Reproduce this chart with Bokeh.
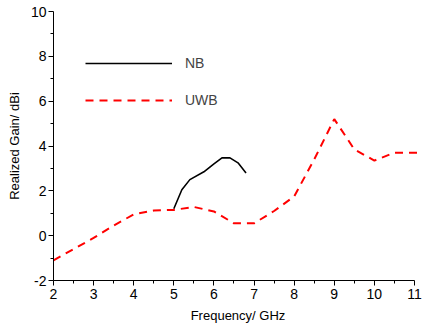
from bokeh.plotting import figure
from bokeh.models import Range1d, Legend, LegendItem, FixedTicker
from bokeh.embed import file_html
from bokeh.resources import INLINE

# Data
uwb_freq = [2.0, 2.5, 3.0, 3.5, 4.0, 4.5, 5.0, 5.5, 6.0, 6.5, 7.0, 7.5, 8.0, 8.5, 9.0, 9.5, 10.0, 10.5, 11.0, 11.5]
uwb_gain = [-1.1, -0.6, -0.1, 0.45, 0.95, 1.12, 1.15, 1.28, 1.08, 0.55, 0.55, 1.1, 1.75, 3.4, 5.2, 3.85, 3.35, 3.7, 3.7, 3.7]
nb_freq = [5.0, 5.2, 5.4, 5.75, 6.0, 6.2, 6.4, 6.6, 6.8]
nb_gain = [1.2, 2.05, 2.5, 2.85, 3.2, 3.47, 3.47, 3.25, 2.8]
x_ticks = [2, 3, 4, 5, 6, 7, 8, 9, 10, 11]
y_ticks = [-2, 0, 2, 4, 6, 8, 10]
y_tick_labels = ["-2", "0", "2", "4", "6", "8", "10"]

FONT = "Liberation Sans"

p = figure(width=422, height=331, output_backend="svg", toolbar_location=None,
           x_range=Range1d(2, 11.2), y_range=Range1d(-2, 10),
           min_border_left=53, min_border_right=0, min_border_top=11, min_border_bottom=51)
p.outline_line_color = None
p.grid.visible = False
p.background_fill_color = "white"

nb = p.line(nb_freq, nb_gain, line_color="black", line_width=1.6)
uwb = p.line(uwb_freq, uwb_gain, line_color="red", line_width=2, line_dash="8 6")

for ax in (p.xaxis[0], p.yaxis[0]):
    ax.axis_line_color = "black"
    ax.major_tick_line_color = "black"
    ax.minor_tick_line_color = "black"
    ax.major_tick_out = 5
    ax.major_tick_in = 0
    ax.minor_tick_out = 3
    ax.minor_tick_in = 0
    ax.major_label_text_font = FONT
    ax.major_label_text_font_size = "14px"
    ax.major_label_text_color = "black"
    ax.axis_label_text_font = FONT
    ax.axis_label_text_font_size = "13px"
    ax.axis_label_text_font_style = "normal"
    ax.axis_label_text_color = "black"

p.xaxis.bounds = (2, 11)
p.xaxis.ticker = FixedTicker(ticks=x_ticks, minor_ticks=[x + 0.5 for x in x_ticks[:-1]])
p.yaxis.ticker = FixedTicker(ticks=y_ticks, minor_ticks=[y + 1 for y in y_ticks[:-1]])
p.yaxis.major_label_overrides = {t: l for t, l in zip(y_ticks, y_tick_labels)}
p.xaxis.axis_label = "Frequency/ GHz"
p.yaxis.axis_label = "Realized Gain/ dBi"
p.xaxis.major_label_standoff = 3
p.yaxis.major_label_standoff = 2
p.xaxis.axis_label_standoff = 6
p.yaxis.axis_label_standoff = 6

legend = Legend(items=[LegendItem(label="NB", renderers=[nb]),
                       LegendItem(label="UWB", renderers=[uwb])],
                location=(32, 170), glyph_width=87, glyph_height=20,
                label_standoff=13, spacing=17, padding=0, margin=0,
                border_line_color=None, background_fill_alpha=0,
                label_text_font=FONT, label_text_font_size="14px")
p.add_layout(legend)

open("out.html", "w").write(file_html(p, INLINE))
